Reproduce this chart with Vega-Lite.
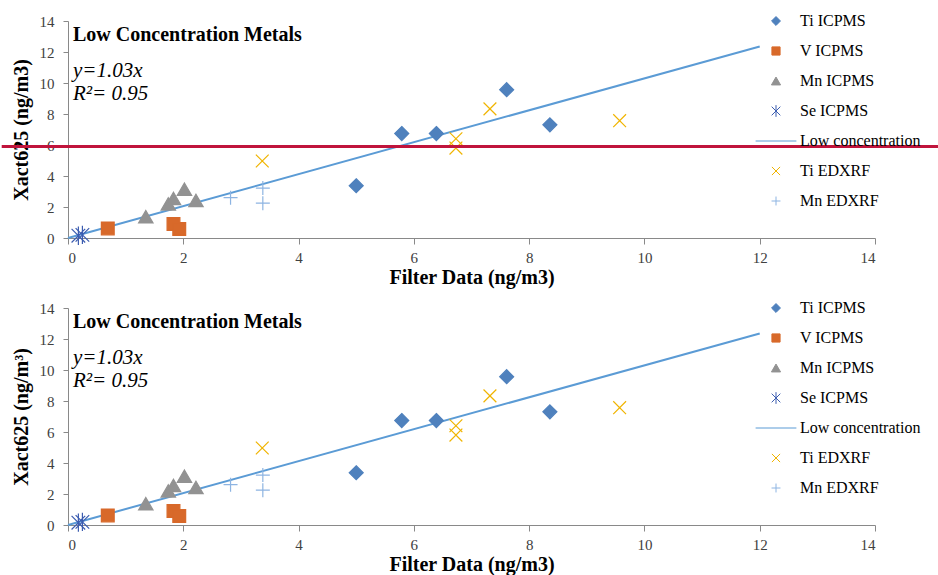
{
  "$schema": "https://vega.github.io/schema/vega-lite/v6.json",
  "padding": {"left": 0, "top": 13, "right": 0, "bottom": 5},
  "background": "white",
  "spacing": 70,
  "bounds": "flush",
  "config": {
    "view": {"stroke": null},
    "font": "Liberation Serif",
    "axis": {
      "grid": false, "domainColor": "#898989", "tickColor": "#898989",
      "labelFont": "Liberation Serif", "labelFontSize": 15, "labelColor": "#404040",
      "titleFont": "Liberation Serif", "titleFontSize": 20, "titleFontWeight": "bold", "titleColor": "black"
    }
  },
  "datasets": {
    "pts": [
      {"series": "Ti ICPMS", "filter": 5.0, "xact": 3.37},
      {"series": "Ti ICPMS", "filter": 5.79, "xact": 6.74},
      {"series": "Ti ICPMS", "filter": 6.39, "xact": 6.74},
      {"series": "Ti ICPMS", "filter": 7.61, "xact": 9.57},
      {"series": "Ti ICPMS", "filter": 8.36, "xact": 7.3},
      {"series": "V ICPMS", "filter": 0.69, "xact": 0.62},
      {"series": "V ICPMS", "filter": 1.83, "xact": 0.9},
      {"series": "V ICPMS", "filter": 1.93, "xact": 0.58},
      {"series": "Mn ICPMS", "filter": 1.35, "xact": 1.37},
      {"series": "Mn ICPMS", "filter": 1.74, "xact": 2.2},
      {"series": "Mn ICPMS", "filter": 1.83, "xact": 2.55},
      {"series": "Mn ICPMS", "filter": 2.02, "xact": 3.15},
      {"series": "Mn ICPMS", "filter": 2.22, "xact": 2.42},
      {"series": "Se ICPMS", "filter": 0.18, "xact": 0.15},
      {"series": "Se ICPMS", "filter": 0.25, "xact": 0.2},
      {"series": "Ti EDXRF", "filter": 3.37, "xact": 4.97},
      {"series": "Ti EDXRF", "filter": 6.73, "xact": 6.4},
      {"series": "Ti EDXRF", "filter": 6.73, "xact": 5.8},
      {"series": "Ti EDXRF", "filter": 7.32, "xact": 8.33},
      {"series": "Ti EDXRF", "filter": 9.57, "xact": 7.57},
      {"series": "Mn EDXRF", "filter": 2.82, "xact": 2.6},
      {"series": "Mn EDXRF", "filter": 3.38, "xact": 3.22},
      {"series": "Mn EDXRF", "filter": 3.38, "xact": 2.25}
    ],
    "fit": [
      {"series": "Low concentration", "filter": 0, "xact": 0},
      {"series": "Low concentration", "filter": 12, "xact": 12.36}
    ],
    "limit": [
      {"level": 5.9}
    ]
  },
  "vconcat": [
    {
      "width": 807,
      "height": 217,
      "title": {
        "text": "Low Concentration Metals",
        "subtitle": ["y=1.03x", "R²= 0.95"],
        "anchor": "start", "frame": "group", "orient": "top",
        "dx": 5, "dy": 95,
        "font": "Liberation Serif", "fontSize": 20, "fontWeight": "bold", "color": "black",
        "subtitleFont": "Liberation Serif", "subtitleFontSize": 21, "subtitleFontStyle": "italic",
        "subtitleColor": "black", "subtitlePadding": 15, "subtitleLineHeight": 23
      },
      "layer": [
        {
          "encoding": {
            "x": {"field": "filter", "type": "quantitative", "scale": {"domain": [0, 14]},
                  "axis": {"title": "Filter Data (ng/m3)", "values": [0, 2, 4, 6, 8, 10, 12, 14], "format": "d",
                           "grid": false, "domainColor": "#898989", "tickColor": "#898989", "tickSize": 6,
                           "labelFont": "Liberation Serif", "labelFontSize": 15, "labelColor": "#404040", "labelPadding": 6,
                           "titleFont": "Liberation Serif", "titleFontSize": 20, "titleFontWeight": "bold", "titleColor": "black", "titlePadding": 2}},
            "y": {"field": "xact", "type": "quantitative", "scale": {"domain": [0, 14]},
                  "axis": {"title": "Xact625 (ng/m3)", "values": [0, 2, 4, 6, 8, 10, 12, 14], "format": "d",
                           "grid": false, "domainColor": "#898989", "tickColor": "#898989", "tickSize": 5,
                           "labelFont": "Liberation Serif", "labelFontSize": 15, "labelColor": "#404040", "labelPadding": 9,
                           "titleFont": "Liberation Serif", "titleFontSize": 20, "titleFontWeight": "bold", "titleColor": "black", "titlePadding": 8}}
          },
          "layer": [
            {
              "data": {"name": "fit"},
              "mark": {"type": "line", "strokeWidth": 2},
              "encoding": {
                "stroke": {"field": "series", "type": "nominal",
                  "scale": {"domain": ["Ti ICPMS", "V ICPMS", "Mn ICPMS", "Se ICPMS", "Low concentration", "Ti EDXRF", "Mn EDXRF"],
                            "range": ["#4F81BD", "#D8692A", "#929292", "#3B5CB0", "#5B9BD5", "#F0B400", "#8DB4E2"]},
                  "legend": {"title": null, "orient": "none", "legendX": 700, "legendY": -8, "padding": 0,
                             "labelFont": "Liberation Serif", "labelFontSize": 16, "labelColor": "black",
                             "symbolSize": 26, "symbolStrokeWidth": 1, "rowPadding": 14, "labelOffset": 16}}
              }
            },
            {
              "data": {"name": "pts"},
              "mark": {"type": "point", "filled": true, "size": 64, "strokeWidth": 1.2, "opacity": 1},
              "encoding": {
                "stroke": {"field": "series", "type": "nominal",
                  "scale": {"domain": ["Ti ICPMS", "V ICPMS", "Mn ICPMS", "Se ICPMS", "Low concentration", "Ti EDXRF", "Mn EDXRF"],
                            "range": ["#4F81BD", "#D8692A", "#929292", "#3B5CB0", "#5B9BD5", "#F0B400", "#8DB4E2"]},
                  "legend": {"title": null, "orient": "none", "legendX": 700, "legendY": -8, "padding": 0,
                             "labelFont": "Liberation Serif", "labelFontSize": 16, "labelColor": "black",
                             "symbolSize": 26, "symbolStrokeWidth": 1, "rowPadding": 14, "labelOffset": 16}},
                "fill": {"field": "series", "type": "nominal",
                  "scale": {"domain": ["Ti ICPMS", "V ICPMS", "Mn ICPMS", "Se ICPMS", "Low concentration", "Ti EDXRF", "Mn EDXRF"],
                            "range": ["#4F81BD", "#D8692A", "#929292", "#3B5CB0", "#5B9BD5", "#F0B400", "#8DB4E2"]},
                  "legend": {"title": null, "orient": "none", "legendX": 700, "legendY": -8, "padding": 0,
                             "labelFont": "Liberation Serif", "labelFontSize": 16, "labelColor": "black",
                             "symbolSize": 26, "symbolStrokeWidth": 1, "rowPadding": 14, "labelOffset": 16}},
                "shape": {"field": "series", "type": "nominal",
                  "scale": {"domain": ["Ti ICPMS", "V ICPMS", "Mn ICPMS", "Se ICPMS", "Low concentration", "Ti EDXRF", "Mn EDXRF"],
                            "range": ["M0,-1.75L1.75,0L0,1.75L-1.75,0Z", "M-1.6,-1.6L1.6,-1.6L1.6,1.6L-1.6,1.6Z", "M0,-1.55L1.8,1.55L-1.8,1.55Z", "M-1.7,-1.7L1.7,1.7M-1.7,1.7L1.7,-1.7M0,-2.3L0,2.3", "M-8,0L8,0", "M-1.6,-1.6L1.6,1.6M-1.6,1.6L1.6,-1.6", "M-1.75,0L1.75,0M0,-1.75L0,1.75"]},
                  "legend": {"title": null, "orient": "none", "legendX": 700, "legendY": -8, "padding": 0,
                             "labelFont": "Liberation Serif", "labelFontSize": 16, "labelColor": "black",
                             "symbolSize": 26, "symbolStrokeWidth": 1, "rowPadding": 14, "labelOffset": 16}}
              }
            }
          ]
        },
        {
          "data": {"name": "limit"},
          "mark": {"type": "rule", "color": "#C0143C", "strokeWidth": 3},
          "encoding": {
            "y": {"field": "level", "type": "quantitative", "scale": {"domain": [0, 14]},
                  "axis": {"title": "Xact625 (ng/m3)", "values": [0, 2, 4, 6, 8, 10, 12, 14], "format": "d",
                           "grid": false, "domainColor": "#898989", "tickColor": "#898989", "tickSize": 5,
                           "labelFont": "Liberation Serif", "labelFontSize": 15, "labelColor": "#404040", "labelPadding": 9,
                           "titleFont": "Liberation Serif", "titleFontSize": 20, "titleFontWeight": "bold", "titleColor": "black", "titlePadding": 8}},
            "x": {"datum": -1.15, "type": "quantitative", "scale": {"domain": [0, 14]},
                  "axis": {"title": "Filter Data (ng/m3)", "values": [0, 2, 4, 6, 8, 10, 12, 14], "format": "d",
                           "grid": false, "domainColor": "#898989", "tickColor": "#898989", "tickSize": 6,
                           "labelFont": "Liberation Serif", "labelFontSize": 15, "labelColor": "#404040", "labelPadding": 6,
                           "titleFont": "Liberation Serif", "titleFontSize": 20, "titleFontWeight": "bold", "titleColor": "black", "titlePadding": 2}},
            "x2": {"datum": 15.1}
          }
        }
      ]
    },
    {
      "width": 807,
      "height": 217,
      "title": {
        "text": "Low Concentration Metals",
        "subtitle": ["y=1.03x", "R²= 0.95"],
        "anchor": "start", "frame": "group", "orient": "top",
        "dx": 5, "dy": 95,
        "font": "Liberation Serif", "fontSize": 20, "fontWeight": "bold", "color": "black",
        "subtitleFont": "Liberation Serif", "subtitleFontSize": 21, "subtitleFontStyle": "italic",
        "subtitleColor": "black", "subtitlePadding": 15, "subtitleLineHeight": 23
      },
      "encoding": {
        "x": {"field": "filter", "type": "quantitative", "scale": {"domain": [0, 14]},
              "axis": {"title": "Filter Data (ng/m3)", "values": [0, 2, 4, 6, 8, 10, 12, 14], "format": "d",
                       "grid": false, "domainColor": "#898989", "tickColor": "#898989", "tickSize": 6,
                       "labelFont": "Liberation Serif", "labelFontSize": 15, "labelColor": "#404040", "labelPadding": 6,
                       "titleFont": "Liberation Serif", "titleFontSize": 20, "titleFontWeight": "bold", "titleColor": "black", "titlePadding": 2}},
        "y": {"field": "xact", "type": "quantitative", "scale": {"domain": [0, 14]},
              "axis": {"title": "Xact625 (ng/m³)", "values": [0, 2, 4, 6, 8, 10, 12, 14], "format": "d",
                       "grid": false, "domainColor": "#898989", "tickColor": "#898989", "tickSize": 5,
                       "labelFont": "Liberation Serif", "labelFontSize": 15, "labelColor": "#404040", "labelPadding": 9,
                       "titleFont": "Liberation Serif", "titleFontSize": 20, "titleFontWeight": "bold", "titleColor": "black", "titlePadding": 8}}
      },
      "layer": [
        {
          "data": {"name": "fit"},
          "mark": {"type": "line", "strokeWidth": 2},
          "encoding": {
            "stroke": {"field": "series", "type": "nominal",
              "scale": {"domain": ["Ti ICPMS", "V ICPMS", "Mn ICPMS", "Se ICPMS", "Low concentration", "Ti EDXRF", "Mn EDXRF"],
                        "range": ["#4F81BD", "#D8692A", "#929292", "#3B5CB0", "#5B9BD5", "#F0B400", "#8DB4E2"]},
              "legend": {"title": null, "orient": "none", "legendX": 700, "legendY": -8, "padding": 0,
                         "labelFont": "Liberation Serif", "labelFontSize": 16, "labelColor": "black",
                         "symbolSize": 26, "symbolStrokeWidth": 1, "rowPadding": 14, "labelOffset": 16}}
          }
        },
        {
          "data": {"name": "pts"},
          "mark": {"type": "point", "filled": true, "size": 64, "strokeWidth": 1.2, "opacity": 1},
          "encoding": {
            "stroke": {"field": "series", "type": "nominal",
              "scale": {"domain": ["Ti ICPMS", "V ICPMS", "Mn ICPMS", "Se ICPMS", "Low concentration", "Ti EDXRF", "Mn EDXRF"],
                        "range": ["#4F81BD", "#D8692A", "#929292", "#3B5CB0", "#5B9BD5", "#F0B400", "#8DB4E2"]},
              "legend": {"title": null, "orient": "none", "legendX": 700, "legendY": -8, "padding": 0,
                         "labelFont": "Liberation Serif", "labelFontSize": 16, "labelColor": "black",
                         "symbolSize": 26, "symbolStrokeWidth": 1, "rowPadding": 14, "labelOffset": 16}},
            "fill": {"field": "series", "type": "nominal",
              "scale": {"domain": ["Ti ICPMS", "V ICPMS", "Mn ICPMS", "Se ICPMS", "Low concentration", "Ti EDXRF", "Mn EDXRF"],
                        "range": ["#4F81BD", "#D8692A", "#929292", "#3B5CB0", "#5B9BD5", "#F0B400", "#8DB4E2"]},
              "legend": {"title": null, "orient": "none", "legendX": 700, "legendY": -8, "padding": 0,
                         "labelFont": "Liberation Serif", "labelFontSize": 16, "labelColor": "black",
                         "symbolSize": 26, "symbolStrokeWidth": 1, "rowPadding": 14, "labelOffset": 16}},
            "shape": {"field": "series", "type": "nominal",
              "scale": {"domain": ["Ti ICPMS", "V ICPMS", "Mn ICPMS", "Se ICPMS", "Low concentration", "Ti EDXRF", "Mn EDXRF"],
                        "range": ["M0,-1.75L1.75,0L0,1.75L-1.75,0Z", "M-1.6,-1.6L1.6,-1.6L1.6,1.6L-1.6,1.6Z", "M0,-1.55L1.8,1.55L-1.8,1.55Z", "M-1.7,-1.7L1.7,1.7M-1.7,1.7L1.7,-1.7M0,-2.3L0,2.3", "M-8,0L8,0", "M-1.6,-1.6L1.6,1.6M-1.6,1.6L1.6,-1.6", "M-1.75,0L1.75,0M0,-1.75L0,1.75"]},
              "legend": {"title": null, "orient": "none", "legendX": 700, "legendY": -8, "padding": 0,
                         "labelFont": "Liberation Serif", "labelFontSize": 16, "labelColor": "black",
                         "symbolSize": 26, "symbolStrokeWidth": 1, "rowPadding": 14, "labelOffset": 16}}
          }
        }
      ]
    }
  ],
  "resolve": {
    "scale": {"fill": "independent", "stroke": "independent", "shape": "independent"},
    "legend": {"fill": "independent", "stroke": "independent", "shape": "independent"}
  }
}
